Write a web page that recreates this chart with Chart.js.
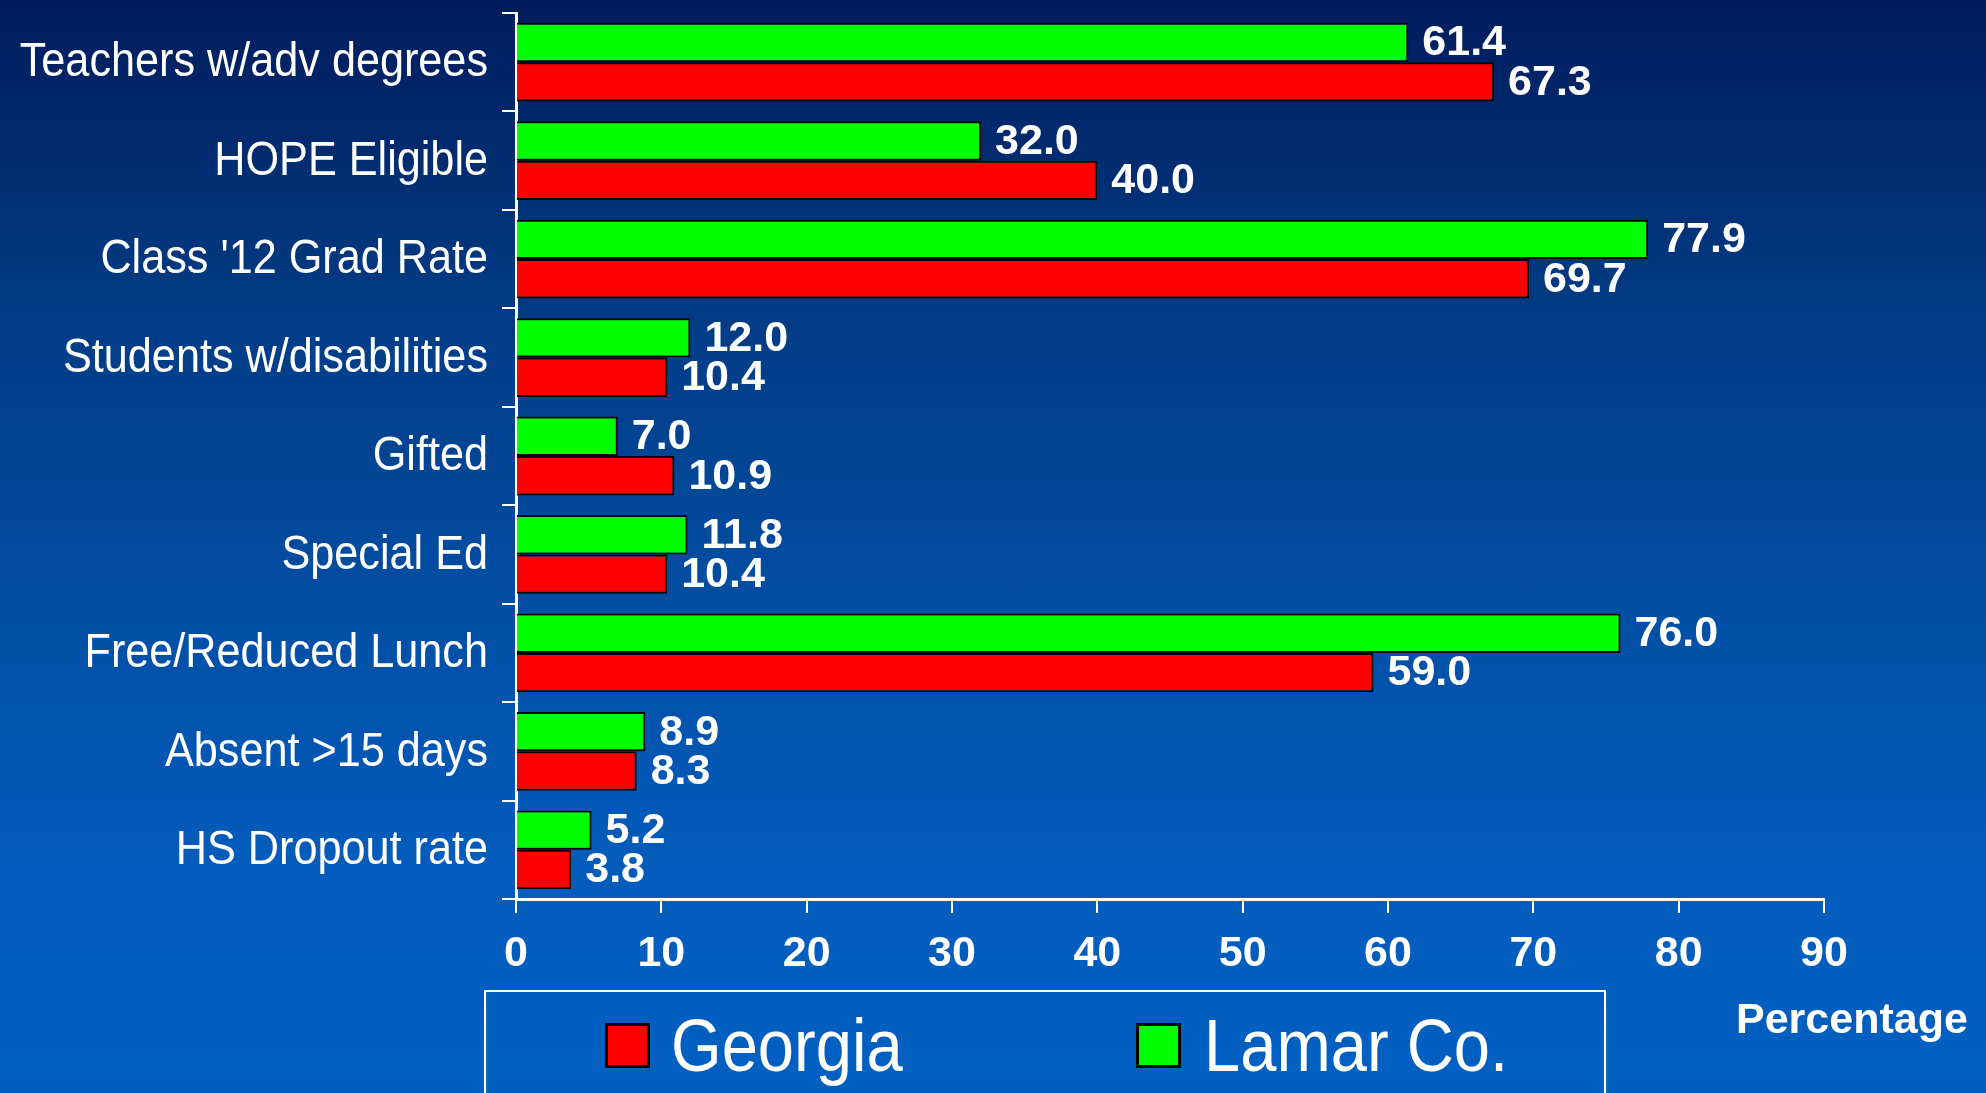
<!DOCTYPE html>
<html>
<head>
<meta charset="utf-8">
<script src="https://cdn.jsdelivr.net/npm/chart.js@4.4.1/dist/chart.umd.min.js"></script>
<style>
  html, body { margin: 0; padding: 0; }
  body {
    width: 1986px; height: 1093px; overflow: hidden; position: relative;
    background: linear-gradient(to bottom, #001c5c 0%, #023a82 27%, #024ea4 55%, #035cbc 80%, #0060c2 100%);
    font-family: "Liberation Sans", Arial, sans-serif;
  }
  #wrap { position: absolute; left: 0; top: 0; width: 1986px; height: 1093px; }
  #legend {
    position: absolute; left: 484px; top: 990px; width: 1122px; height: 130px;
    border: 2px solid #fff; box-sizing: border-box;
  }
  .swatch { position: absolute; top: 31px; width: 45px; height: 45px; border: 3px solid #000; box-sizing: border-box; }
  .txt {
    position: absolute; top: 17px; color: #fff; font-size: 74px; line-height: 74px; white-space: nowrap;
    transform: scaleX(0.88); transform-origin: left center;
  }
  #xtitle { position: absolute; left: 1736px; top: 997px; color: #fff; font-weight: bold; font-size: 43px; line-height: 43px; }
</style>
</head>
<body>
<div id="wrap"><canvas id="chart"></canvas></div>
<div id="legend"></div>
<div id="xtitle">Percentage</div>
<script>
// Lamar County vs Georgia, percentages
const categories = [
  "Teachers w/adv degrees", "HOPE Eligible", "Class '12 Grad Rate",
  "Students w/disabilities", "Gifted", "Special Ed",
  "Free/Reduced Lunch", "Absent >15 days", "HS Dropout rate"
];
const lamar = [61.4, 32.0, 77.9, 12.0, 7.0, 11.8, 76.0, 8.9, 5.2];
const georgia = [67.3, 40.0, 69.7, 10.4, 10.9, 10.4, 59.0, 8.3, 3.8];
const xTicks = [0, 10, 20, 30, 40, 50, 60, 70, 80, 90];

const fontFam = '"Liberation Sans", Arial, sans-serif';

// narrow text like the slide font
function squeezeText(ctx, text, x, y, sx) {
  ctx.save();
  ctx.translate(x, y);
  ctx.scale(sx, 1);
  ctx.fillText(text, 0, 0);
  ctx.restore();
}

// category names on the y axis + numbers at bar ends
const textPlugin = {
  id: 'textPlugin',
  afterDraw(chart) {
    const ctx = chart.ctx;
    const ys = chart.scales.y;
    ctx.save();
    ctx.fillStyle = '#fff';
    ctx.textBaseline = 'middle';
    ctx.textAlign = 'right';
    ctx.font = '48px ' + fontFam;
    chart.data.labels.forEach((lab, i) => {
      squeezeText(ctx, lab, ys.right - 28, ys.getPixelForTick(i) + 1, 0.9);
    });
    ctx.textAlign = 'left';
    ctx.font = 'bold 43px ' + fontFam;
    chart.data.datasets.forEach((ds, i) => {
      chart.getDatasetMeta(i).data.forEach((bar, j) => {
        ctx.fillText(ds.data[j].toFixed(1), bar.x + 14, bar.y + 1);
      });
    });
    ctx.restore();
  }
};

const chart = new Chart(document.getElementById('chart'), {
  type: 'bar',
  data: {
    labels: categories,
    datasets: [
      { label: 'Lamar Co.', data: lamar, backgroundColor: '#00ff00' },
      { label: 'Georgia', data: georgia, backgroundColor: '#ff0000' }
    ]
  },
  options: {
    indexAxis: 'y',
    responsive: true,
    maintainAspectRatio: false,
    devicePixelRatio: 1,
    animation: false,
    layout: { padding: { left: 0, top: 13, right: 162, bottom: 114 } },
    datasets: {
      bar: { categoryPercentage: 0.8, barPercentage: 1.0, borderColor: '#000', borderWidth: 2 }
    },
    plugins: { legend: { display: false }, tooltip: { enabled: false } },
    scales: {
      x: {
        min: 0, max: 90,
        afterBuildTicks: s => { s.ticks = xTicks.map(v => ({ value: v })); },
        afterFit: s => { s.height = 80; },
        border: { color: '#fff', width: 3 },
        grid: { drawOnChartArea: false, color: '#fff', lineWidth: 2, tickLength: 14 },
        ticks: { color: '#fff', padding: 15, font: { family: fontFam, size: 43, weight: 'bold' } }
      },
      y: {
        afterFit: s => { s.width = 516; s.paddingTop = 0; s.paddingBottom = 0; },
        border: { color: '#fff', width: 3 },
        grid: { drawOnChartArea: false, color: '#fff', lineWidth: 2, tickLength: 14 },
        ticks: { display: false }
      }
    }
  },
  plugins: [textPlugin]
});

// legend box, Georgia first like the slide
const legend = document.getElementById('legend');
const swatchLeft = [119, 650];
const textLeft = [185, 718];
chart.data.datasets.slice().reverse().forEach((ds, i) => {
  const sw = document.createElement('div');
  sw.className = 'swatch';
  sw.style.left = swatchLeft[i] + 'px';
  sw.style.background = ds.backgroundColor;
  legend.appendChild(sw);
  const t = document.createElement('div');
  t.className = 'txt';
  t.style.left = textLeft[i] + 'px';
  t.textContent = ds.label;
  legend.appendChild(t);
});
</script>
</body>
</html>
